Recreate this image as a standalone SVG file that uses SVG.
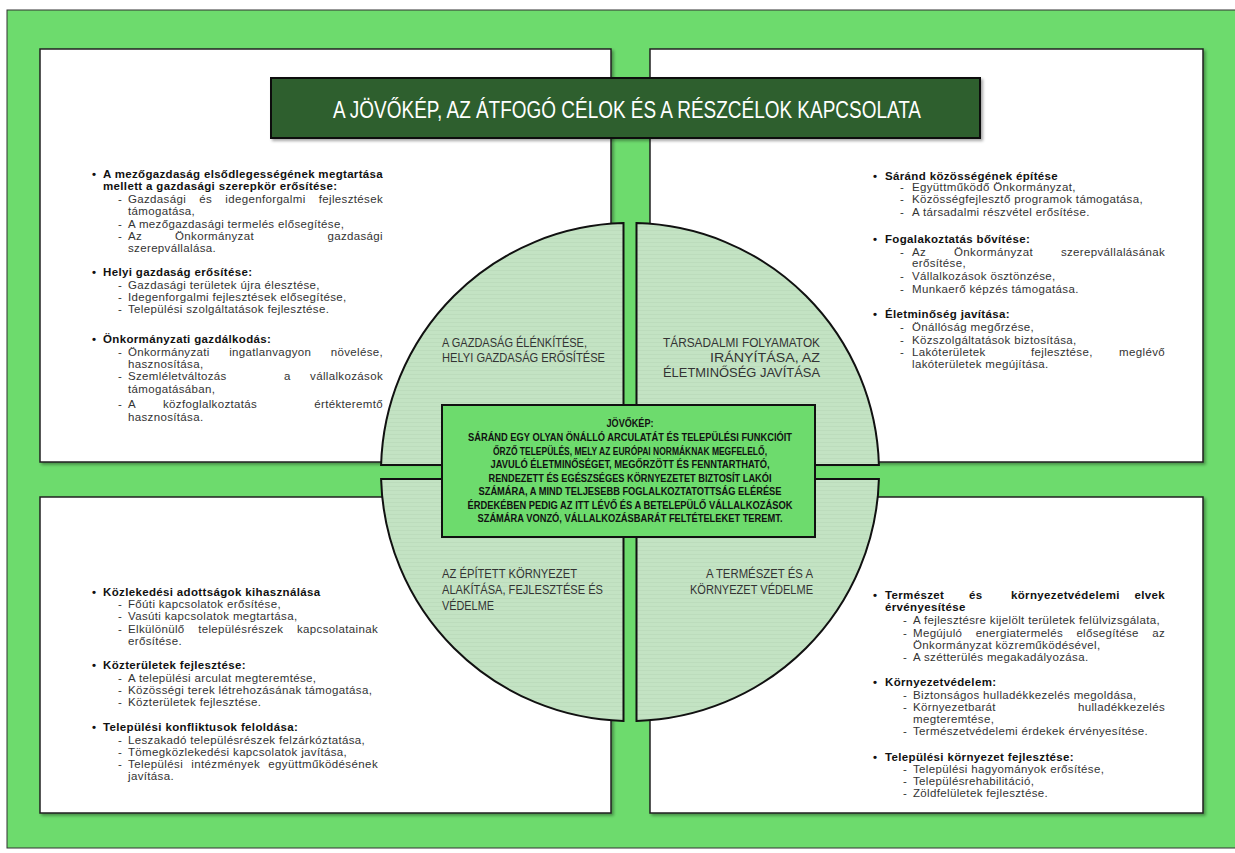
<svg xmlns="http://www.w3.org/2000/svg" width="1235" height="853" viewBox="0 0 1235 853">
<defs>
<pattern id="tex" width="8" height="4" patternUnits="userSpaceOnUse">
<rect width="8" height="4" fill="#c3e3c3"/>
<rect y="2" width="8" height="1" fill="#bcdcbc"/>
</pattern>
<filter id="sh" x="-5%" y="-5%" width="110%" height="115%">
<feDropShadow dx="2" dy="2" stdDeviation="1.5" flood-color="#000" flood-opacity="0.35"/>
</filter>
</defs>
<style>
.panel{fill:#fff;stroke:#222;stroke-width:1.5}
.q{fill:url(#tex);stroke:#111;stroke-width:2}
.h{font-family:"Liberation Sans",Arial,sans-serif;font-size:11.5px;letter-spacing:0.35px;font-weight:bold;fill:#111}
.t{font-family:"Liberation Sans",Arial,sans-serif;font-size:11.5px;letter-spacing:0.35px;fill:#333}
.ql{font-family:"Liberation Sans",Arial,sans-serif;font-size:12.5px;fill:#333}
.c{font-family:"Liberation Sans",Arial,sans-serif;font-size:10.5px;font-weight:bold;fill:#111;text-anchor:middle}
.e{text-anchor:end}
</style>
<rect x="7" y="10" width="1235" height="838" fill="#6ddb6d" stroke="#333" stroke-width="1"/>

<g id="panel-tl">
<rect class="panel" x="40" y="49" width="571" height="413" filter="url(#sh)"/>
<text class="h" x="92" y="178">•</text>
<text class="h" x="103" y="178" textLength="280">A mezőgazdaság elsődlegességének megtartása</text>
<text class="h" x="103" y="190">mellett a gazdasági szerepkör erősítése:</text>
<text class="t" x="118" y="203">-</text><text class="t" x="128" y="203" word-spacing="9.7" textLength="255">Gazdasági és idegenforgalmi fejlesztések</text>
<text class="t" x="128" y="215">támogatása,</text>
<text class="t" x="118" y="228">-</text><text class="t" x="128" y="228">A mezőgazdasági termelés elősegítése,</text>
<text class="t" x="118" y="240">-</text><text class="t" x="128" y="240">Az</text><text class="t" x="175" y="240">Önkormányzat</text><text class="t e" x="383" y="240">gazdasági</text>
<text class="t" x="128" y="252">szerepvállalása.</text>
<text class="h" x="92" y="276">•</text><text class="h" x="103" y="276">Helyi gazdaság erősítése:</text>
<text class="t" x="118" y="289">-</text><text class="t" x="128" y="289">Gazdasági területek újra élesztése,</text>
<text class="t" x="118" y="301">-</text><text class="t" x="128" y="301">Idegenforgalmi fejlesztések elősegítése,</text>
<text class="t" x="118" y="313">-</text><text class="t" x="128" y="313">Települési szolgáltatások fejlesztése.</text>
<text class="h" x="92" y="343">•</text><text class="h" x="103" y="343">Önkormányzati gazdálkodás:</text>
<text class="t" x="118" y="356">-</text><text class="t" x="128" y="356" word-spacing="16" textLength="255">Önkormányzati ingatlanvagyon növelése,</text>
<text class="t" x="128" y="368">hasznosítása,</text>
<text class="t" x="118" y="380">-</text><text class="t" x="128" y="380">Szemléletváltozás</text><text class="t" x="284" y="380">a</text><text class="t e" x="383" y="380">vállalkozások</text>
<text class="t" x="128" y="393">támogatásában,</text>
<text class="t" x="118" y="408">-</text><text class="t" x="128" y="408">A</text><text class="t" x="163" y="408">közfoglalkoztatás</text><text class="t e" x="383" y="408">értékteremtő</text>
<text class="t" x="128" y="421">hasznosítása.</text>
</g>

<g id="panel-tr">
<rect class="panel" x="650" y="49" width="553" height="413" filter="url(#sh)"/>
<text class="h" x="873" y="180">•</text><text class="h" x="885" y="180">Sáránd közösségének építése</text>
<text class="t" x="900" y="191">-</text><text class="t" x="912" y="191">Együttműködő Önkormányzat,</text>
<text class="t" x="900" y="203">-</text><text class="t" x="912" y="203">Közösségfejlesztő programok támogatása,</text>
<text class="t" x="900" y="216">-</text><text class="t" x="912" y="216">A társadalmi részvétel erősítése.</text>
<text class="h" x="873" y="243">•</text><text class="h" x="885" y="243">Fogalakoztatás bővítése:</text>
<text class="t" x="900" y="256">-</text><text class="t" x="912" y="256">Az</text><text class="t" x="954" y="256">Önkormányzat</text><text class="t e" x="1165" y="256">szerepvállalásának</text>
<text class="t" x="912" y="267">erősítése,</text>
<text class="t" x="900" y="280">-</text><text class="t" x="912" y="280">Vállalkozások ösztönzése,</text>
<text class="t" x="900" y="293">-</text><text class="t" x="912" y="293">Munkaerő képzés támogatása.</text>
<text class="h" x="873" y="318">•</text><text class="h" x="885" y="318">Életminőség javítása:</text>
<text class="t" x="900" y="331">-</text><text class="t" x="912" y="331">Önállóság megőrzése,</text>
<text class="t" x="900" y="344">-</text><text class="t" x="912" y="344">Közszolgáltatások biztosítása,</text>
<text class="t" x="900" y="356">-</text><text class="t" x="912" y="356">Lakóterületek</text><text class="t" x="1031" y="356">fejlesztése,</text><text class="t e" x="1165" y="356">meglévő</text>
<text class="t" x="912" y="368">lakóterületek megújítása.</text>
</g>

<g id="panel-bl">
<rect class="panel" x="40" y="497" width="571" height="316" filter="url(#sh)"/>
<text class="h" x="92" y="596">•</text><text class="h" x="103" y="596">Közlekedési adottságok kihasználása</text>
<text class="t" x="118" y="608">-</text><text class="t" x="128" y="608">Főúti kapcsolatok erősítése,</text>
<text class="t" x="118" y="620">-</text><text class="t" x="128" y="620">Vasúti kapcsolatok megtartása,</text>
<text class="t" x="118" y="633">-</text><text class="t" x="128" y="633" word-spacing="10" textLength="250">Elkülönülő településrészek kapcsolatainak</text>
<text class="t" x="128" y="645">erősítése.</text>
<text class="h" x="92" y="669">•</text><text class="h" x="103" y="669">Közterületek fejlesztése:</text>
<text class="t" x="118" y="682">-</text><text class="t" x="128" y="682">A települési arculat megteremtése,</text>
<text class="t" x="118" y="694">-</text><text class="t" x="128" y="694">Közösségi terek létrehozásának támogatása,</text>
<text class="t" x="118" y="706">-</text><text class="t" x="128" y="706">Közterületek fejlesztése.</text>
<text class="h" x="92" y="731">•</text><text class="h" x="103" y="731">Települési konfliktusok feloldása:</text>
<text class="t" x="118" y="744">-</text><text class="t" x="128" y="744">Leszakadó településrészek felzárkóztatása,</text>
<text class="t" x="118" y="756">-</text><text class="t" x="128" y="756">Tömegközlekedési kapcsolatok javítása,</text>
<text class="t" x="118" y="768">-</text><text class="t" x="128" y="768" word-spacing="4.4" textLength="250">Települési intézmények együttműködésének</text>
<text class="t" x="128" y="780">javítása.</text>
</g>

<g id="panel-br">
<rect class="panel" x="650" y="497" width="553" height="316" filter="url(#sh)"/>
<text class="h" x="873" y="599">•</text><text class="h" x="885" y="599">Természet</text><text class="h" x="969" y="599">és</text><text class="h" x="1011" y="599">környezetvédelemi</text><text class="h e" x="1165" y="599">elvek</text>
<text class="h" x="885" y="611">érvényesítése</text>
<text class="t" x="903" y="624">-</text><text class="t" x="913" y="624">A fejlesztésre kijelölt területek felülvizsgálata,</text>
<text class="t" x="903" y="637">-</text><text class="t" x="913" y="637" word-spacing="9.8" textLength="252">Megújuló energiatermelés elősegítése az</text>
<text class="t" x="913" y="649">Önkormányzat közreműködésével,</text>
<text class="t" x="903" y="661">-</text><text class="t" x="913" y="661">A szétterülés megakadályozása.</text>
<text class="h" x="873" y="686">•</text><text class="h" x="885" y="686">Környezetvédelem:</text>
<text class="t" x="903" y="699">-</text><text class="t" x="913" y="699">Biztonságos hulladékkezelés megoldása,</text>
<text class="t" x="903" y="711">-</text><text class="t" x="913" y="711">Környezetbarát</text><text class="t e" x="1165" y="711">hulladékkezelés</text>
<text class="t" x="913" y="723">megteremtése,</text>
<text class="t" x="903" y="735">-</text><text class="t" x="913" y="735">Természetvédelemi érdekek érvényesítése.</text>
<text class="h" x="873" y="761">•</text><text class="h" x="885" y="761">Települési környezet fejlesztése:</text>
<text class="t" x="903" y="773">-</text><text class="t" x="913" y="773">Települési hagyományok erősítése,</text>
<text class="t" x="903" y="785">-</text><text class="t" x="913" y="785">Településrehabilitáció,</text>
<text class="t" x="903" y="797">-</text><text class="t" x="913" y="797">Zöldfelületek fejlesztése.</text>
</g>

<g id="title">
<rect x="271" y="78" width="709" height="60" fill="#2e5e2e" stroke="#111" stroke-width="2" filter="url(#sh)"/>
<text x="627" y="118" text-anchor="middle" textLength="588" lengthAdjust="spacingAndGlyphs" font-family="Liberation Sans, Arial, sans-serif" font-size="23" fill="#fff">A JÖVŐKÉP, AZ ÁTFOGÓ CÉLOK ÉS A RÉSZCÉLOK KAPCSOLATA</text>
</g>

<g id="q-tl">
<path class="q" d="M623.5,223.1 A249,249 0 0 0 381.1,465 L623.5,465 Z"/>
<text class="ql" x="442" y="347" textLength="145" lengthAdjust="spacingAndGlyphs">A GAZDASÁG ÉLÉNKÍTÉSE,</text>
<text class="ql" x="442" y="362" textLength="163" lengthAdjust="spacingAndGlyphs">HELYI GAZDASÁG ERŐSÍTÉSE</text>
</g>
<g id="q-tr">
<path class="q" d="M636.5,223.1 A249,249 0 0 1 878.9,465 L636.5,465 Z"/>
<text class="ql e" x="820" y="347" textLength="157" lengthAdjust="spacingAndGlyphs">TÁRSADALMI FOLYAMATOK</text>
<text class="ql e" x="820" y="362" textLength="110" lengthAdjust="spacingAndGlyphs">IRÁNYÍTÁSA, AZ</text>
<text class="ql e" x="820" y="377" textLength="157" lengthAdjust="spacingAndGlyphs">ÉLETMINŐSÉG JAVÍTÁSA</text>
</g>
<g id="q-bl">
<path class="q" d="M623.5,479 L381.1,479 A249,249 0 0 0 623.5,720.9 Z"/>
<text class="ql" x="442" y="578" textLength="135" lengthAdjust="spacingAndGlyphs">AZ ÉPÍTETT KÖRNYEZET</text>
<text class="ql" x="442" y="594" textLength="161" lengthAdjust="spacingAndGlyphs">ALAKÍTÁSA, FEJLESZTÉSE ÉS</text>
<text class="ql" x="442" y="610" textLength="52" lengthAdjust="spacingAndGlyphs">VÉDELME</text>
</g>
<g id="q-br">
<path class="q" d="M636.5,479 L878.9,479 A249,249 0 0 1 636.5,720.9 Z"/>
<text class="ql e" x="813" y="578" textLength="107" lengthAdjust="spacingAndGlyphs">A TERMÉSZET ÉS A</text>
<text class="ql e" x="813" y="594" textLength="123" lengthAdjust="spacingAndGlyphs">KÖRNYEZET VÉDELME</text>
</g>

<g id="center">
<rect x="442" y="405" width="373" height="132" fill="#6ddb6d" stroke="#111" stroke-width="2"/>
<text class="c" x="630" y="427" textLength="47" lengthAdjust="spacingAndGlyphs">JÖVŐKÉP:</text>
<text class="c" x="630" y="441" textLength="324" lengthAdjust="spacingAndGlyphs">SÁRÁND EGY OLYAN ÖNÁLLÓ ARCULATÁT ÉS TELEPÜLÉSI FUNKCIÓIT</text>
<text class="c" x="630" y="455" textLength="274" lengthAdjust="spacingAndGlyphs">ŐRZŐ TELEPÜLÉS, MELY AZ EURÓPAI NORMÁKNAK MEGFELELŐ,</text>
<text class="c" x="630" y="468" textLength="279" lengthAdjust="spacingAndGlyphs">JAVULÓ ÉLETMINŐSÉGET, MEGŐRZÖTT ÉS FENNTARTHATÓ,</text>
<text class="c" x="630" y="482" textLength="283" lengthAdjust="spacingAndGlyphs">RENDEZETT ÉS EGÉSZSÉGES KÖRNYEZETET BIZTOSÍT LAKÓI</text>
<text class="c" x="630" y="495" textLength="303" lengthAdjust="spacingAndGlyphs">SZÁMÁRA, A MIND TELJESEBB FOGLALKOZTATOTTSÁG ELÉRÉSE</text>
<text class="c" x="630" y="509" textLength="325" lengthAdjust="spacingAndGlyphs">ÉRDEKÉBEN PEDIG AZ ITT LÉVŐ ÉS A BETELEPÜLŐ VÁLLALKOZÁSOK</text>
<text class="c" x="630" y="522" textLength="305" lengthAdjust="spacingAndGlyphs">SZÁMÁRA VONZÓ, VÁLLALKOZÁSBARÁT FELTÉTELEKET TEREMT.</text>
</g>
</svg>
